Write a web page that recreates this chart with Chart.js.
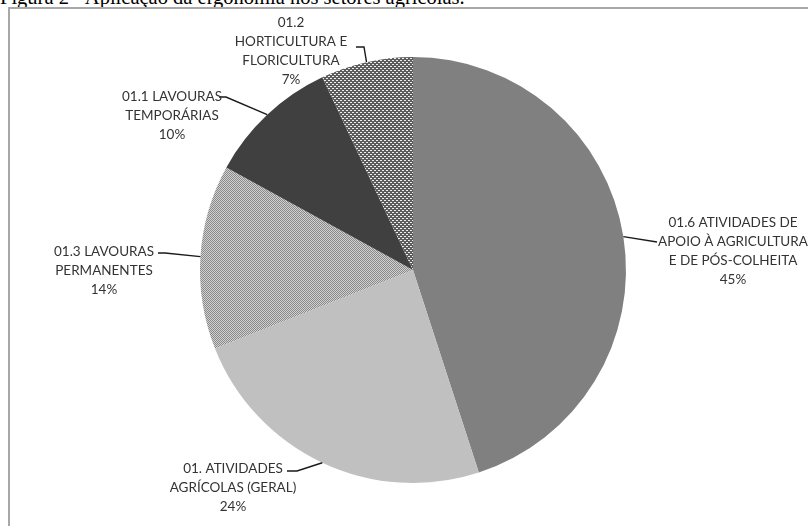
<!DOCTYPE html>
<html>
<head>
<meta charset="utf-8">
<script src="https://cdn.jsdelivr.net/npm/chart.js@4"></script>
<style>
  html, body { margin: 0; padding: 0; background: #fff; overflow: hidden; }
  #wrap { position: relative; width: 808px; height: 526px; overflow: hidden; }
  #frame { position: absolute; left: 8px; top: 7px; width: 820px; height: 540px;
           border-left: 2px solid #a8a8a8; border-top: 2px solid #a8a8a8; }
  #caption { position: absolute; left: 0; top: -14px; font: 20.5px "Liberation Serif", serif;
             line-height: 22px; white-space: nowrap; color: #000; }
  #box { position: absolute; left: 0; top: 0; width: 808px; height: 526px; }
</style>
</head>
<body>
<div id="wrap">
  <div id="caption">Figura 2 - Aplicação da ergonomia nos setores agrícolas.</div>
  <div id="frame"></div>
  <div id="box"><canvas id="pie"></canvas></div>
</div>
<script>
// Setores agrícolas — fatias em ordem horária a partir do topo
const CATEGORIES = [
  "01.6 ATIVIDADES DE APOIO À AGRICULTURA E DE PÓS-COLHEITA",
  "01. ATIVIDADES AGRÍCOLAS (GERAL)",
  "01.3 LAVOURAS PERMANENTES",
  "01.1 LAVOURAS TEMPORÁRIAS",
  "01.2 HORTICULTURA E FLORICULTURA",
];
const LABEL_LINES = [
  ["01.6 ATIVIDADES DE", "APOIO À AGRICULTURA", "E DE PÓS-COLHEITA"],
  ["01. ATIVIDADES", "AGRÍCOLAS (GERAL)"],
  ["01.3 LAVOURAS", "PERMANENTES"],
  ["01.1 LAVOURAS", "TEMPORÁRIAS"],
  ["01.2", "HORTICULTURA E", "FLORICULTURA"],
];
const PERCENTS = [45, 24, 14, 10, 7];

// posição dos rótulos (centro da 1ª linha) e ponto onde a linha guia encosta
const LABEL_LAYOUT = [
  { x: 733, y: 223, anchor: [657, 242] },
  { x: 233, y: 469, anchor: [287, 471], elbow: [297, 471] },
  { x: 104, y: 252, anchor: [158, 253], elbow: [165, 253] },
  { x: 172, y: 97, anchor: [219, 97], elbow: [226, 97] },
  { x: 291, y: 23, anchor: [356, 47], elbow: [364, 47] },
];
const LINE_H = 19;
const TEXT = "#333333";

function makePattern(w, h, bg, fg, dots) {
  const c = document.createElement("canvas");
  c.width = w; c.height = h;
  const g = c.getContext("2d");
  g.fillStyle = bg; g.fillRect(0, 0, w, h);
  g.fillStyle = fg;
  dots.forEach(([x, y]) => g.fillRect(x, y, 1, 1));
  return g.createPattern(c, "repeat");
}

const fine = makePattern(2, 2, "#8a8a8a", "#d0d0d0", [[1, 0], [0, 1]]);
const dotted = makePattern(4, 4, "#5c5c5c", "#eeeeee", [[0, 0], [1, 0], [2, 2], [3, 2]]);
const FILLS = ["#808080", "#c0c0c0", fine, "#404040", dotted];

const labelPlugin = {
  id: "sliceLabels",
  afterDatasetsDraw(chart) {
    const ctx = chart.ctx;
    const arcs = chart.getDatasetMeta(0).data;
    ctx.save();
    ctx.font = "13.5px Lato";
    ctx.fillStyle = TEXT;
    ctx.strokeStyle = "#1a1a1a";
    ctx.lineWidth = 1.4;
    ctx.textAlign = "center";
    ctx.textBaseline = "middle";
    arcs.forEach((arc, i) => {
      const p = arc.getProps(["x", "y", "startAngle", "endAngle", "outerRadius"], true);
      const mid = (p.startAngle + p.endAngle) / 2;
      const L = LABEL_LAYOUT[i];
      ctx.beginPath();
      ctx.moveTo(p.x + Math.cos(mid) * p.outerRadius, p.y + Math.sin(mid) * p.outerRadius);
      if (L.elbow) ctx.lineTo(L.elbow[0], L.elbow[1]);
      ctx.lineTo(L.anchor[0], L.anchor[1]);
      ctx.stroke();
      const lines = [...LABEL_LINES[i], PERCENTS[i] + "%"];
      lines.forEach((t, k) => ctx.fillText(t, L.x, L.y + k * LINE_H));
    });
    ctx.restore();
  },
};

new Chart(document.getElementById("pie"), {
  type: "pie",
  data: {
    labels: CATEGORIES,
    datasets: [{
      data: PERCENTS,
      backgroundColor: FILLS,
      borderWidth: 0,
    }],
  },
  options: {
    responsive: true,
    maintainAspectRatio: false,
    animation: false,
    layout: { padding: { left: 200, right: 182, top: 57, bottom: 43 } },
    plugins: { legend: { display: false }, tooltip: { enabled: false } },
  },
  plugins: [labelPlugin],
});
</script>
</body>
</html>
